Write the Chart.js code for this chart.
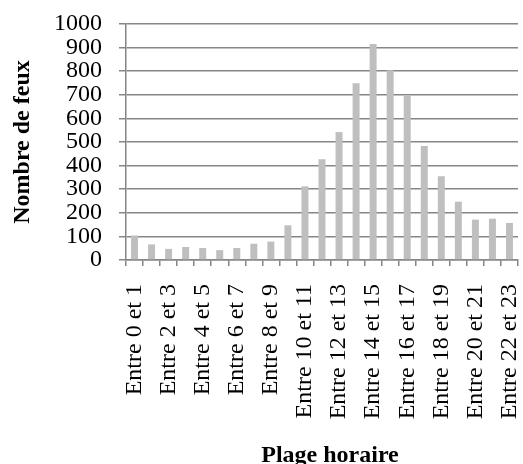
<!DOCTYPE html>
<html>
<head>
<meta charset="utf-8">
<script src="https://cdn.jsdelivr.net/npm/chart.js@4"></script>
<style>
  html, body { margin: 0; padding: 0; background: #fff; }
  #wrap { width: 523px; height: 464px; position: relative; }
</style>
</head>
<body>
<div id="wrap"><canvas id="c" width="523" height="464"></canvas></div>
<script>
const categories = [
  "Entre 0 et 1", "Entre 1 et 2", "Entre 2 et 3", "Entre 3 et 4", "Entre 4 et 5",
  "Entre 5 et 6", "Entre 6 et 7", "Entre 7 et 8", "Entre 8 et 9", "Entre 9 et 10",
  "Entre 10 et 11", "Entre 11 et 12", "Entre 12 et 13", "Entre 13 et 14", "Entre 14 et 15",
  "Entre 15 et 16", "Entre 16 et 17", "Entre 17 et 18", "Entre 18 et 19", "Entre 19 et 20",
  "Entre 20 et 21", "Entre 21 et 22", "Entre 22 et 23"
];
const nombreDeFeux = [104, 66, 47, 55, 51, 42, 51, 69, 78, 147, 312, 427, 542, 749, 915, 804, 698, 483, 355, 247, 171, 175, 157];
const yTicks = [0, 100, 200, 300, 400, 500, 600, 700, 800, 900, 1000];
const xTitle = "Plage horaire";
const yTitle = "Nombre de feux";

const serif = "'Liberation Serif', 'Times New Roman', serif";
const gridColor = '#868686';

function shiftTitle(scale, dx) {
  if (scale._titleShifted) return;
  const orig = scale.drawTitle;
  scale.drawTitle = function() {
    const ctx = this.ctx;
    ctx.save();
    ctx.translate(dx, 0);
    orig.call(this);
    ctx.restore();
  };
  scale._titleShifted = true;
}

new Chart(document.getElementById('c'), {
  type: 'bar',
  data: {
    labels: categories,
    datasets: [{
      data: nombreDeFeux,
      backgroundColor: '#bfbfbf',
      borderWidth: 0,
      categoryPercentage: 1,
      barPercentage: 0.41
    }]
  },
  options: {
    responsive: false,
    animation: false,
    devicePixelRatio: 1,
    layout: { padding: { top: 24, right: 5, left: 0, bottom: 0 } },
    plugins: { legend: { display: false }, tooltip: { enabled: false } },
    scales: {
      x: {
        grid: { display: true, drawOnChartArea: false, drawTicks: true, tickLength: 6, color: gridColor, lineWidth: 1.5, offset: true },
        border: { display: true, color: gridColor, width: 1.5 },
        ticks: {
          autoSkip: false,
          maxRotation: 90,
          minRotation: 90,
          padding: 18,
          color: '#000',
          font: { family: serif, size: 24 },
          callback: function(value, index) { return index % 2 === 0 ? categories[index] : ''; }
        },
        title: { display: true, text: xTitle, color: '#000', font: { family: serif, size: 24, weight: 'bold' }, padding: { top: 0, bottom: -6 } },
        afterFit: function(scale) {
          scale.height = 204; scale.paddingLeft = 0; scale.paddingRight = 0;
          shiftTitle(scale, 8);
        }
      },
      y: {
        min: 0,
        max: 1000,
        afterBuildTicks: function(scale) { scale.ticks = yTicks.map(v => ({ value: v })); },
        grid: { color: gridColor, lineWidth: 1.5, drawTicks: true, tickLength: 7 },
        border: { display: true, color: gridColor, width: 1.5 },
        ticks: { autoSkip: false, padding: 17, color: '#000', font: { family: serif, size: 24 },
          callback: function(value) { return String(value); } },
        title: { display: true, text: yTitle, color: '#000', font: { family: serif, size: 24, weight: 'bold' }, padding: { top: 8, bottom: 0 } },
        afterFit: function(scale) { scale.width = 126; scale.paddingTop = 0; scale.paddingBottom = 0; }
      }
    }
  }
});
</script>
</body>
</html>
